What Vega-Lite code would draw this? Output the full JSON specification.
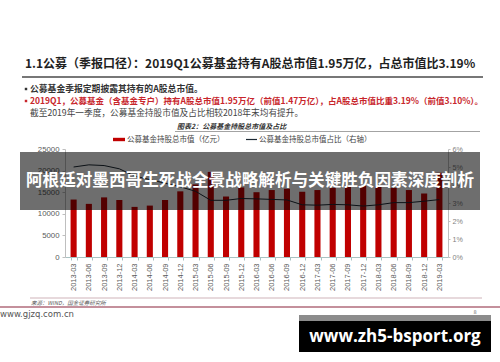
{
  "$schema": "https://vega.github.io/schema/vega-lite/v6.json",
  "width": 383,
  "height": 108,
  "padding": {"left": 65, "top": 149, "right": 52, "bottom": 105},
  "autosize": {"type": "none"},
  "background": "white",
  "config": {"font": "Noto Sans CJK SC", "view": {"stroke": null}, "axis": {"grid": false}},
  "datasets": {
    "quarterly": [
      {"quarter": "2013-03", "marketValue": 13300, "share": 0.0500},
      {"quarter": "2013-06", "marketValue": 12300, "share": 0.0512},
      {"quarter": "2013-09", "marketValue": 13800, "share": 0.0508},
      {"quarter": "2013-12", "marketValue": 13200, "share": 0.0490},
      {"quarter": "2014-03", "marketValue": 11600, "share": 0.0450},
      {"quarter": "2014-06", "marketValue": 11900, "share": 0.0430},
      {"quarter": "2014-09", "marketValue": 13200, "share": 0.0410},
      {"quarter": "2014-12", "marketValue": 15200, "share": 0.0390},
      {"quarter": "2015-03", "marketValue": 16800, "share": 0.0365},
      {"quarter": "2015-06", "marketValue": 19700, "share": 0.0315},
      {"quarter": "2015-09", "marketValue": 14000, "share": 0.0315},
      {"quarter": "2015-12", "marketValue": 16100, "share": 0.0325},
      {"quarter": "2016-03", "marketValue": 15000, "share": 0.0323},
      {"quarter": "2016-06", "marketValue": 15500, "share": 0.0320},
      {"quarter": "2016-09", "marketValue": 15800, "share": 0.0317},
      {"quarter": "2016-12", "marketValue": 15100, "share": 0.0290},
      {"quarter": "2017-03", "marketValue": 15500, "share": 0.0288},
      {"quarter": "2017-06", "marketValue": 16000, "share": 0.0292},
      {"quarter": "2017-09", "marketValue": 16500, "share": 0.0290},
      {"quarter": "2017-12", "marketValue": 16500, "share": 0.0283},
      {"quarter": "2018-03", "marketValue": 16300, "share": 0.0290},
      {"quarter": "2018-06", "marketValue": 16000, "share": 0.0302},
      {"quarter": "2018-09", "marketValue": 15500, "share": 0.0302},
      {"quarter": "2018-12", "marketValue": 14700, "share": 0.0310},
      {"quarter": "2019-03", "marketValue": 19500, "share": 0.0319}
    ],
    "notes": [
      {"key": "title", "text": "1.1公募（季报口径）：2019Q1公募基金持有A股总市值1.95万亿，占总市值比3.19%"},
      {"key": "b1", "text": "公募基金季报定期披露其持有的A股总市值。"},
      {"key": "b2", "text": "2019Q1，公募基金（含基金专户）持有A股总市值1.95万亿（前值1.47万亿），占A股总市值比重3.19%（前值3.10%）。"},
      {"key": "b3", "text": "截至2019年一季度，公募基金持股市值及占比相较2018年末均有提升。"},
      {"key": "fig", "text": "图表2：公募基金持股总市值及占比"},
      {"key": "leg1", "text": "公募基金持股总市值（亿元）"},
      {"key": "leg2", "text": "公募基金持股总市值占比（右轴）"},
      {"key": "banner", "text": "阿根廷对墨西哥生死战全景战略解析与关键胜负因素深度剖析"},
      {"key": "src", "text": "来源：WIND，国金证券研究所"},
      {"key": "site", "text": "www.gjzq.com.cn"},
      {"key": "page", "text": "8"},
      {"key": "wm", "text": "www.zh5-bsport.org"}
    ]
  },
  "layer": [
    {
      "layer": [
        {
          "data": {"name": "quarterly"},
          "mark": {"type": "bar", "color": "#c00000"},
          "encoding": {
            "x": {"field": "quarter", "type": "ordinal", "scale": {"paddingInner": 0.6, "paddingOuter": 0.365},
              "axis": {"title": null, "labelAngle": -90, "labelFontSize": 7.5, "labelColor": "#595959", "labelFont": "Liberation Sans", "domainColor": "#a9c2c2", "tickColor": "#a9c2c2", "tickBand": "extent", "tickSize": 3, "labelPadding": 3}},
            "y": {"field": "marketValue", "type": "quantitative", "scale": {"domain": [0, 25000], "nice": false},
              "axis": {"title": null, "values": [0, 5000, 10000, 15000, 20000, 25000], "format": "d", "labelFontSize": 7.8, "labelColor": "#595959", "labelFont": "Liberation Sans", "domainColor": "#bfbfbf", "tickColor": "#bfbfbf", "tickSize": 3, "labelPadding": 3}}
          }
        },
        {
          "data": {"name": "quarterly"},
          "mark": {"type": "line", "color": "#1c2833", "strokeWidth": 1},
          "encoding": {
            "x": {"field": "quarter", "type": "ordinal"},
            "y": {"field": "share", "type": "quantitative", "scale": {"domain": [0, 0.06], "nice": false},
              "axis": {"orient": "right", "title": null, "values": [0, 0.01, 0.02, 0.03, 0.04, 0.05, 0.06], "format": ".0%", "labelFontSize": 7.2, "labelColor": "#7f7f7f", "labelFont": "Liberation Sans", "domainColor": "#bfbfbf", "tickColor": "#bfbfbf", "tickSize": 2, "labelPadding": 2}}
          }
        }
      ],
      "resolve": {"scale": {"y": "independent"}}
    },
    {
      "layer": [
        {
          "data": {"name": "notes"}, "transform": [{"filter": "datum.key === 'title'"}],
          "mark": {"type": "text", "align": "left", "baseline": "middle", "fontSize": 12, "fontWeight": "bold", "color": "#1f1f1f"},
          "encoding": {
            "x": {"datum": 25, "type": "quantitative", "scale": {"domain": [65, 448], "nice": false, "zero": false}, "axis": null},
            "y": {"datum": 64, "type": "quantitative", "scale": {"domain": [149, 257], "nice": false, "zero": false, "reverse": true}, "axis": null},
            "text": {"field": "text"}
          }
        },
        {
          "data": {"values": [{"el": "titleRule"}]},
          "mark": {"type": "rule", "color": "#4a4a4a", "strokeWidth": 1.5},
          "encoding": {"x": {"datum": 22, "type": "quantitative"}, "x2": {"datum": 483}, "y": {"datum": 77, "type": "quantitative"}}
        },
        {
          "data": {"values": [{"el": "bullet1"}]},
          "mark": {"type": "square", "color": "#333333", "size": 6, "opacity": 1, "filled": true},
          "encoding": {"x": {"datum": 26, "type": "quantitative"}, "y": {"datum": 89, "type": "quantitative"}}
        },
        {
          "data": {"values": [{"el": "bullet2"}]},
          "mark": {"type": "square", "color": "#c8262c", "size": 6, "opacity": 1, "filled": true},
          "encoding": {"x": {"datum": 26, "type": "quantitative"}, "y": {"datum": 101, "type": "quantitative"}}
        },
        {
          "data": {"name": "notes"}, "transform": [{"filter": "datum.key === 'b1'"}],
          "mark": {"type": "text", "align": "left", "baseline": "middle", "fontSize": 8.8, "fontWeight": "bold", "color": "#333333"},
          "encoding": {"x": {"datum": 30, "type": "quantitative"}, "y": {"datum": 89, "type": "quantitative"}, "text": {"field": "text"}}
        },
        {
          "data": {"name": "notes"}, "transform": [{"filter": "datum.key === 'b2'"}],
          "mark": {"type": "text", "align": "left", "baseline": "middle", "fontSize": 8.5, "fontWeight": "bold", "color": "#c8262c"},
          "encoding": {"x": {"datum": 30, "type": "quantitative"}, "y": {"datum": 101, "type": "quantitative"}, "text": {"field": "text"}}
        },
        {
          "data": {"name": "notes"}, "transform": [{"filter": "datum.key === 'b3'"}],
          "mark": {"type": "text", "align": "left", "baseline": "middle", "fontSize": 8.7, "color": "#444444"},
          "encoding": {"x": {"datum": 30, "type": "quantitative"}, "y": {"datum": 112.5, "type": "quantitative"}, "text": {"field": "text"}}
        },
        {
          "data": {"name": "notes"}, "transform": [{"filter": "datum.key === 'fig'"}],
          "mark": {"type": "text", "align": "left", "baseline": "middle", "fontSize": 7, "fontWeight": "bold", "fontStyle": "italic", "color": "#333333"},
          "encoding": {"x": {"datum": 177, "type": "quantitative"}, "y": {"datum": 127, "type": "quantitative"}, "text": {"field": "text"}}
        },
        {
          "data": {"values": [{"el": "figRule"}]},
          "mark": {"type": "rule", "color": "#8c8c8c", "strokeWidth": 0.8},
          "encoding": {"x": {"datum": 175, "type": "quantitative"}, "x2": {"datum": 480}, "y": {"datum": 131.5, "type": "quantitative"}}
        },
        {
          "data": {"values": [{"el": "legendSwatch"}]},
          "mark": {"type": "rect", "color": "#c00000"},
          "encoding": {"x": {"datum": 113, "type": "quantitative"}, "x2": {"datum": 125}, "y": {"datum": 137.8, "type": "quantitative"}, "y2": {"datum": 141.2}}
        },
        {
          "data": {"name": "notes"}, "transform": [{"filter": "datum.key === 'leg1'"}],
          "mark": {"type": "text", "align": "left", "baseline": "middle", "fontSize": 7.5, "color": "#444444"},
          "encoding": {"x": {"datum": 127, "type": "quantitative"}, "y": {"datum": 139.5, "type": "quantitative"}, "text": {"field": "text"}}
        },
        {
          "data": {"values": [{"el": "legendLine"}]},
          "mark": {"type": "rule", "color": "#1c2833", "strokeWidth": 1.2},
          "encoding": {"x": {"datum": 246, "type": "quantitative"}, "x2": {"datum": 257}, "y": {"datum": 139.5, "type": "quantitative"}}
        },
        {
          "data": {"name": "notes"}, "transform": [{"filter": "datum.key === 'leg2'"}],
          "mark": {"type": "text", "align": "left", "baseline": "middle", "fontSize": 7.5, "color": "#444444"},
          "encoding": {"x": {"datum": 259, "type": "quantitative"}, "y": {"datum": 139.5, "type": "quantitative"}, "text": {"field": "text"}}
        },
        {
          "data": {"values": [{"el": "bannerBox"}]},
          "mark": {"type": "rect", "color": "#000000", "opacity": 0.57},
          "encoding": {"x": {"datum": 20, "type": "quantitative"}, "x2": {"datum": 480}, "y": {"datum": 152, "type": "quantitative"}, "y2": {"datum": 210}}
        },
        {
          "data": {"name": "notes"}, "transform": [{"filter": "datum.key === 'banner'"}],
          "mark": {"type": "text", "align": "center", "baseline": "middle", "fontSize": 16.6, "fontWeight": "bold", "color": "#ffffff"},
          "encoding": {"x": {"datum": 250, "type": "quantitative"}, "y": {"datum": 181, "type": "quantitative"}, "text": {"field": "text"}}
        },
        {
          "data": {"values": [{"el": "sourceRule"}]},
          "mark": {"type": "rule", "color": "#cfb3b9", "strokeWidth": 1},
          "encoding": {"x": {"datum": 30, "type": "quantitative"}, "x2": {"datum": 482}, "y": {"datum": 298, "type": "quantitative"}}
        },
        {
          "data": {"name": "notes"}, "transform": [{"filter": "datum.key === 'src'"}],
          "mark": {"type": "text", "align": "left", "baseline": "middle", "fontSize": 5.5, "fontStyle": "italic", "color": "#555555"},
          "encoding": {"x": {"datum": 31, "type": "quantitative"}, "y": {"datum": 302.5, "type": "quantitative"}, "text": {"field": "text"}}
        },
        {
          "data": {"values": [{"el": "footerRule"}]},
          "mark": {"type": "rule", "color": "#c4909c", "strokeWidth": 2},
          "encoding": {"x": {"datum": 0, "type": "quantitative"}, "x2": {"datum": 500}, "y": {"datum": 307, "type": "quantitative"}}
        },
        {
          "data": {"name": "notes"}, "transform": [{"filter": "datum.key === 'site'"}],
          "mark": {"type": "text", "align": "left", "baseline": "middle", "fontSize": 8.5, "font": "DejaVu Sans", "color": "#555555"},
          "encoding": {"x": {"datum": 0, "type": "quantitative"}, "y": {"datum": 314, "type": "quantitative"}, "text": {"field": "text"}}
        },
        {
          "data": {"name": "notes"}, "transform": [{"filter": "datum.key === 'page'"}],
          "mark": {"type": "text", "align": "center", "baseline": "middle", "fontSize": 5, "font": "DejaVu Sans", "color": "#777777"},
          "encoding": {"x": {"datum": 475, "type": "quantitative"}, "y": {"datum": 311.5, "type": "quantitative"}, "text": {"field": "text"}}
        },
        {
          "data": {"values": [{"el": "watermarkTop"}]},
          "mark": {"type": "rect", "color": "#8c8c8c"},
          "encoding": {"x": {"datum": 299, "type": "quantitative"}, "x2": {"datum": 491}, "y": {"datum": 315, "type": "quantitative"}, "y2": {"datum": 321}}
        },
        {
          "data": {"values": [{"el": "watermarkBox"}]},
          "mark": {"type": "rect", "color": "#000000"},
          "encoding": {"x": {"datum": 299, "type": "quantitative"}, "x2": {"datum": 491}, "y": {"datum": 321, "type": "quantitative"}, "y2": {"datum": 352}}
        },
        {
          "data": {"name": "notes"}, "transform": [{"filter": "datum.key === 'wm'"}],
          "mark": {"type": "text", "align": "center", "baseline": "middle", "fontSize": 17, "fontWeight": "bold", "font": "Open Sans", "color": "#ffffff"},
          "encoding": {"x": {"datum": 395, "type": "quantitative"}, "y": {"datum": 336.5, "type": "quantitative"}, "text": {"field": "text"}}
        }
      ]
    }
  ],
  "resolve": {"scale": {"x": "independent", "y": "independent"}}
}
